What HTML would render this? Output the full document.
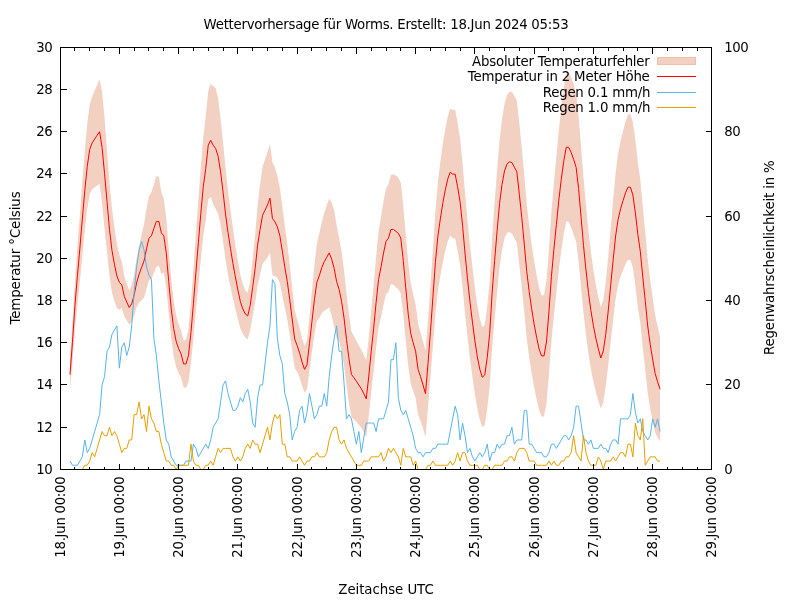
<!DOCTYPE html>
<html lang="de"><head><meta charset="utf-8"><title>Wettervorhersage für Worms</title>
<style>html,body{margin:0;padding:0;background:#fff}svg{display:block;will-change:transform}text{font-family:"DejaVu Sans","Liberation Sans",sans-serif;font-size:13.33px;fill:#000}</style></head><body>
<svg width="800" height="600" viewBox="0 0 800 600">
<rect width="800" height="600" fill="#fff"/>
<polygon points="69.98,360.76 72.44,323.19 74.91,281.25 77.38,247.21 79.85,215.11 82.32,182.06 84.79,150.66 87.26,123.64 89.73,104.68 92.20,96.36 94.67,90.80 97.13,85.10 99.60,79.29 102.07,91.73 104.54,117.95 107.01,150.75 109.48,182.65 111.95,208.52 114.42,227.35 116.89,243.89 119.35,255.00 121.82,261.56 124.29,276.16 126.76,283.98 129.23,290.23 131.70,285.51 134.17,274.16 136.64,258.57 139.11,245.67 141.57,234.62 144.04,224.02 146.51,208.69 148.98,196.06 151.45,192.23 153.92,183.74 156.39,176.10 158.86,176.69 161.33,192.01 163.80,198.81 166.26,218.35 168.73,249.48 171.20,278.72 173.67,300.85 176.14,315.34 178.61,324.22 181.08,330.39 183.55,340.70 186.02,339.76 188.48,328.81 190.95,302.46 193.42,269.22 195.89,233.33 198.36,199.64 200.83,166.80 203.30,137.33 205.77,116.53 208.24,90.88 210.71,83.73 213.17,86.27 215.64,88.04 218.11,98.85 220.58,119.04 223.05,142.54 225.52,168.10 227.99,190.24 230.46,209.81 232.93,228.32 235.39,244.96 237.86,260.88 240.33,274.79 242.80,284.20 245.27,290.31 247.74,292.77 250.21,280.65 252.68,258.61 255.15,234.42 257.62,205.39 260.08,184.53 262.55,166.71 265.02,159.42 267.49,152.32 269.96,143.70 272.43,161.89 274.90,167.50 277.37,176.07 279.84,188.00 282.30,206.37 284.77,225.51 287.24,243.37 289.71,264.69 292.18,287.33 294.65,310.00 297.12,318.91 299.59,328.02 302.06,338.33 304.52,346.19 306.99,340.78 309.46,316.57 311.93,291.16 314.40,265.30 316.87,243.62 319.34,233.43 321.81,221.90 324.28,212.80 326.75,205.25 329.21,198.38 331.68,202.70 334.15,210.58 336.62,225.21 339.09,237.64 341.56,251.63 344.03,270.18 346.50,293.62 348.97,314.58 351.43,331.67 353.90,336.12 356.37,340.76 358.84,345.45 361.31,349.82 363.78,354.99 366.25,360.34 368.72,337.89 371.19,311.02 373.66,285.32 376.12,257.06 378.59,231.36 381.06,216.67 383.53,201.34 386.00,188.63 388.47,184.31 390.94,174.87 393.41,174.18 395.88,175.47 398.34,177.55 400.81,182.72 403.28,206.04 405.75,234.74 408.22,262.47 410.69,283.28 413.16,294.31 415.63,304.44 418.10,324.02 420.57,332.46 423.03,341.43 425.50,350.41 427.97,319.73 430.44,285.88 432.91,248.92 435.38,211.42 437.85,182.21 440.32,161.96 442.79,144.29 445.25,129.16 447.72,116.80 450.19,108.86 452.66,110.04 455.13,109.70 457.60,122.72 460.07,138.53 462.54,163.22 465.01,192.73 467.48,220.01 469.94,245.01 472.41,267.11 474.88,287.65 477.35,305.35 479.82,318.76 482.29,327.32 484.76,324.93 487.23,306.54 489.70,280.35 492.16,236.73 494.63,202.31 497.10,169.98 499.57,140.01 502.04,118.99 504.51,103.75 506.98,95.34 509.45,91.74 511.92,91.76 514.38,95.88 516.85,100.47 519.32,123.36 521.79,147.63 524.26,175.20 526.73,203.96 529.20,225.59 531.67,244.39 534.14,261.12 536.61,275.30 539.07,287.79 541.54,295.24 544.01,295.20 546.48,280.45 548.95,249.04 551.42,212.04 553.89,183.17 556.36,156.66 558.83,130.39 561.29,107.96 563.76,88.41 566.23,73.20 568.70,72.56 571.17,77.40 573.64,84.34 576.11,93.14 578.58,115.98 581.05,146.76 583.52,177.98 585.98,205.47 588.45,230.77 590.92,252.06 593.39,269.85 595.86,284.75 598.33,297.19 600.80,307.21 603.27,300.24 605.74,282.35 608.20,257.06 610.67,228.64 613.14,200.32 615.61,173.26 618.08,154.08 620.55,141.37 623.02,131.19 625.49,121.48 627.96,114.53 630.42,114.35 632.89,122.16 635.36,140.16 637.83,161.92 640.30,179.82 642.77,206.65 645.24,232.13 647.71,259.28 650.18,279.87 652.65,297.52 655.11,314.70 657.58,326.23 660.05,337.32 660.05,441.21 657.58,437.18 655.11,432.16 652.65,420.91 650.18,408.57 647.71,392.63 645.24,369.45 642.77,347.21 640.30,322.86 637.83,306.64 635.36,285.74 632.89,267.85 630.42,260.04 627.96,259.85 625.49,264.31 623.02,270.22 620.55,276.51 618.08,284.92 615.61,298.68 613.14,319.76 610.67,342.12 608.20,365.21 605.74,386.37 603.27,401.91 600.80,408.81 598.33,400.68 595.86,391.68 593.39,381.42 590.92,369.13 588.45,353.84 585.98,334.71 583.52,313.18 581.05,287.38 578.58,261.15 576.11,241.60 573.64,234.52 571.17,227.59 568.70,222.01 566.23,221.37 563.76,234.03 561.29,250.38 558.83,269.75 556.36,292.90 553.89,315.80 551.42,340.98 548.95,374.61 546.48,403.38 544.01,416.61 541.54,416.57 539.07,410.08 536.61,399.34 534.14,387.48 531.67,373.45 529.20,357.56 526.73,338.83 524.26,312.78 521.79,287.53 519.32,265.00 516.85,243.08 514.38,238.47 511.92,233.42 509.45,231.97 506.98,233.02 504.51,238.12 502.04,249.90 499.57,266.89 497.10,291.82 494.63,318.61 492.16,347.54 489.70,386.26 487.23,408.65 484.76,424.88 482.29,427.14 479.82,419.78 477.35,408.54 474.88,393.77 472.41,376.67 469.94,358.29 467.48,337.08 465.01,313.41 462.54,287.11 460.07,264.99 457.60,250.89 455.13,238.50 452.66,238.16 450.19,235.55 447.72,241.38 445.25,250.75 442.79,262.54 440.32,275.98 437.85,290.74 435.38,313.90 432.91,345.48 430.44,377.36 427.97,407.65 425.50,436.98 423.03,428.54 420.57,421.06 418.10,414.87 415.63,398.07 413.16,391.09 410.69,383.34 408.22,365.78 405.75,341.04 403.28,314.88 400.81,293.44 398.34,289.32 395.88,287.17 393.41,284.67 390.94,283.98 388.47,291.85 386.00,294.29 383.53,304.80 381.06,316.92 378.59,327.14 376.12,347.74 373.66,370.92 371.19,392.19 368.72,415.93 366.25,437.19 363.78,432.11 361.31,427.73 358.84,424.63 356.37,421.66 353.90,419.18 351.43,417.29 348.97,403.13 346.50,385.45 344.03,365.61 341.56,350.94 339.09,341.10 336.62,337.94 334.15,326.39 331.68,315.69 329.21,307.34 326.75,309.34 324.28,310.66 321.81,312.96 319.34,317.89 316.87,320.94 314.40,334.38 311.93,351.95 309.46,370.11 306.99,389.18 304.52,392.64 302.06,385.61 299.59,377.62 297.12,372.10 294.65,367.84 292.18,350.65 289.71,334.11 287.24,319.28 284.77,308.08 282.30,295.55 279.84,283.51 277.37,277.42 274.90,276.14 272.43,275.07 269.96,252.65 267.49,257.54 265.02,261.00 262.55,263.84 260.08,274.32 257.62,284.79 255.15,302.34 252.68,315.91 250.21,330.14 247.74,339.22 245.27,337.60 242.80,333.85 240.33,328.13 237.86,319.03 235.39,308.83 232.93,298.60 230.46,286.99 227.99,274.62 225.52,259.74 223.05,241.32 220.58,224.62 218.11,213.67 215.64,208.81 213.17,204.31 210.71,196.91 208.24,199.55 205.77,220.27 203.30,235.79 200.83,259.71 198.36,285.81 195.89,311.24 193.42,338.28 190.95,363.02 188.48,382.15 186.02,388.09 183.55,387.15 181.08,377.50 178.61,373.15 176.14,367.09 173.67,356.20 171.20,338.28 168.73,313.67 166.26,287.37 163.80,272.71 161.33,273.59 158.86,266.11 156.39,266.70 153.92,273.00 151.45,279.28 148.98,280.52 146.51,289.01 144.04,297.75 141.57,300.24 139.11,302.60 136.64,307.12 134.17,315.60 131.70,321.99 129.23,324.86 126.76,320.14 124.29,316.55 121.82,308.35 119.35,309.85 116.89,307.91 114.42,301.14 111.95,292.14 109.48,275.63 107.01,252.10 104.54,228.92 102.07,203.26 99.60,184.03 97.13,185.40 94.67,187.30 92.20,189.35 89.73,194.04 87.26,208.87 84.79,230.90 82.32,256.09 79.85,281.74 77.38,305.38 74.91,330.05 72.44,361.84 69.98,388.63" fill="#f2d0c2" stroke="none"/>
<polyline points="69.98,374.69 72.44,342.51 74.91,305.65 77.38,276.30 79.85,248.43 82.32,219.08 84.79,190.78 87.26,166.26 89.73,149.36 92.20,142.85 94.67,139.05 97.13,135.25 99.60,131.66 102.07,147.50 104.54,173.44 107.01,201.43 109.48,229.14 111.95,250.33 114.42,264.24 116.89,275.90 119.35,282.42 121.82,284.95 124.29,296.36 126.76,302.06 129.23,307.55 131.70,303.75 134.17,294.88 136.64,282.84 139.11,274.13 141.57,267.43 144.04,260.88 146.51,248.85 148.98,238.29 151.45,235.76 153.92,228.37 156.39,221.40 158.86,221.40 161.33,232.80 163.80,235.76 166.26,252.86 168.73,281.58 171.20,308.50 173.67,328.52 176.14,341.21 178.61,348.69 181.08,353.94 183.55,363.93 186.02,363.93 188.48,355.48 190.95,332.74 193.42,303.75 195.89,272.29 198.36,242.72 200.83,213.25 203.30,186.56 205.77,168.40 208.24,145.22 210.71,140.32 213.17,145.29 215.64,148.43 218.11,156.26 220.58,171.83 223.05,191.93 225.52,213.92 227.99,232.43 230.46,248.40 232.93,263.46 235.39,276.89 237.86,289.95 240.33,301.46 242.80,309.03 245.27,313.95 247.74,315.99 250.21,305.39 252.68,287.26 255.15,268.38 257.62,245.09 260.08,229.42 262.55,215.28 265.02,210.21 267.49,204.93 269.96,198.17 272.43,218.48 274.90,221.82 277.37,226.75 279.84,235.76 282.30,250.96 284.77,266.80 287.24,281.32 289.71,299.40 292.18,318.99 294.65,338.92 297.12,345.50 299.59,352.82 302.06,361.97 304.52,369.41 306.99,364.98 309.46,343.34 311.93,321.55 314.40,299.84 316.87,282.28 319.34,275.66 321.81,267.43 324.28,261.73 326.75,257.29 329.21,252.86 331.68,259.19 334.15,268.49 336.62,281.58 339.09,289.37 341.56,301.28 344.03,317.89 346.50,339.54 348.97,358.86 351.43,374.48 353.90,377.65 356.37,381.21 358.84,385.04 361.31,388.78 363.78,393.55 366.25,398.76 368.72,376.91 371.19,351.61 373.66,328.12 376.12,302.40 378.59,279.25 381.06,266.80 383.53,253.07 386.00,241.46 388.47,238.08 390.94,229.42 393.41,229.42 395.88,231.32 398.34,233.43 400.81,238.08 403.28,260.46 405.75,287.89 408.22,314.12 410.69,333.31 413.16,342.70 415.63,351.26 418.10,369.45 420.57,376.76 423.03,384.98 425.50,393.70 427.97,363.69 430.44,331.62 432.91,297.20 435.38,262.66 437.85,236.47 440.32,218.97 442.79,203.42 445.25,189.95 447.72,179.09 450.19,172.20 452.66,174.10 455.13,174.10 457.60,186.81 460.07,201.76 462.54,225.16 465.01,253.07 467.48,278.55 469.94,301.65 472.41,321.89 474.88,340.71 477.35,356.94 479.82,369.27 482.29,377.23 484.76,374.90 487.23,357.59 489.70,333.31 492.16,292.13 494.63,260.46 497.10,230.90 499.57,203.45 502.04,184.45 504.51,170.93 506.98,164.18 509.45,161.85 511.92,162.59 514.38,167.17 516.85,171.78 519.32,194.18 521.79,217.58 524.26,243.99 526.73,271.39 529.20,291.57 531.67,308.92 534.14,324.30 536.61,337.32 539.07,348.93 541.54,355.90 544.01,355.90 546.48,341.91 548.95,311.82 551.42,276.51 553.89,249.48 556.36,224.78 558.83,200.07 561.29,179.17 563.76,161.22 566.23,147.29 568.70,147.29 571.17,152.49 573.64,159.43 576.11,167.37 578.58,188.56 581.05,217.07 583.52,245.58 585.98,270.09 588.45,292.30 590.92,310.59 593.39,325.64 595.86,338.21 598.33,348.93 600.80,358.01 603.27,351.08 605.74,334.36 608.20,311.14 610.67,285.38 613.14,260.04 615.61,235.97 618.08,219.50 620.55,208.94 623.02,200.71 625.49,192.89 627.96,187.19 630.42,187.19 632.89,195.00 635.36,212.95 637.83,234.28 640.30,251.34 642.77,276.93 645.24,300.79 647.71,325.95 650.18,344.22 652.65,359.21 655.11,373.43 657.58,381.71 660.05,389.26" fill="none" stroke="#ff0000" stroke-width="1" stroke-linejoin="miter" stroke-miterlimit="4"/>
<polyline points="69.98,461.05 72.44,465.28 74.91,465.28 77.38,465.28 79.85,461.05 82.32,456.83 84.79,439.94 87.26,452.61 89.73,448.38 92.20,439.94 94.67,431.49 97.13,423.05 99.60,414.60 102.07,385.04 104.54,376.59 107.01,351.26 109.48,347.03 111.95,334.36 114.42,330.14 116.89,325.92 119.35,368.15 121.82,347.03 124.29,342.81 126.76,355.48 129.23,347.03 131.70,325.92 134.17,292.13 136.64,266.80 139.11,249.90 141.57,241.46 144.04,249.90 146.51,266.80 148.98,275.24 151.45,279.47 153.92,338.59 156.39,355.48 158.86,380.82 161.33,401.93 163.80,423.05 166.26,439.94 168.73,444.16 171.20,456.83 173.67,461.05 176.14,465.28 178.61,465.28 181.08,465.28 183.55,465.28 186.02,461.05 188.48,461.05 190.95,461.05 193.42,444.16 195.89,448.38 198.36,456.83 200.83,452.61 203.30,448.38 205.77,444.16 208.24,448.38 210.71,439.94 213.17,427.27 215.64,423.05 218.11,418.82 220.58,401.93 223.05,385.04 225.52,380.82 227.99,393.49 230.46,401.93 232.93,410.38 235.39,410.38 237.86,406.16 240.33,397.71 242.80,401.93 245.27,393.49 247.74,389.26 250.21,401.93 252.68,423.05 255.15,427.27 257.62,397.71 260.08,385.04 262.55,385.04 265.02,363.93 267.49,342.81 269.96,325.92 272.43,279.47 274.90,283.69 277.37,338.59 279.84,355.48 282.30,363.93 284.77,393.49 287.24,401.93 289.71,414.60 292.18,439.94 294.65,431.49 297.12,427.27 299.59,410.38 302.06,406.16 304.52,423.05 306.99,412.49 309.46,393.49 311.93,406.16 314.40,418.82 316.87,414.60 319.34,406.16 321.81,406.16 324.28,393.49 326.75,406.16 329.21,376.59 331.68,355.48 334.15,338.59 336.62,325.92 339.09,351.26 341.56,351.26 344.03,382.93 346.50,418.82 348.97,414.60 351.43,418.82 353.90,431.49 356.37,444.16 358.84,431.49 361.31,452.61 363.78,437.83 366.25,423.05 368.72,423.05 371.19,423.05 373.66,423.05 376.12,431.49 378.59,418.82 381.06,418.82 383.53,418.82 386.00,410.38 388.47,401.93 390.94,359.70 393.41,359.70 395.88,342.81 398.34,397.71 400.81,410.38 403.28,414.60 405.75,410.38 408.22,418.82 410.69,427.27 413.16,435.72 415.63,448.38 418.10,452.61 420.57,452.61 423.03,456.83 425.50,452.61 427.97,452.61 430.44,452.61 432.91,448.38 435.38,448.38 437.85,444.16 440.32,444.16 442.79,444.16 445.25,444.16 447.72,444.16 450.19,431.49 452.66,418.82 455.13,406.16 457.60,414.60 460.07,439.94 462.54,423.05 465.01,435.72 467.48,452.61 469.94,448.38 472.41,456.83 474.88,461.05 477.35,456.83 479.82,452.61 482.29,456.83 484.76,452.61 487.23,444.16 489.70,461.05 492.16,452.61 494.63,452.61 497.10,444.16 499.57,448.38 502.04,444.16 504.51,444.16 506.98,435.72 509.45,435.72 511.92,427.27 514.38,444.16 516.85,439.94 519.32,439.94 521.79,439.94 524.26,410.38 526.73,410.38 529.20,444.16 531.67,444.16 534.14,448.38 536.61,452.61 539.07,452.61 541.54,452.61 544.01,456.83 546.48,456.83 548.95,452.61 551.42,444.16 553.89,444.16 556.36,448.38 558.83,444.16 561.29,439.94 563.76,435.72 566.23,435.72 568.70,439.94 571.17,435.72 573.64,427.27 576.11,406.16 578.58,406.16 581.05,423.05 583.52,439.94 585.98,439.94 588.45,444.16 590.92,439.94 593.39,448.38 595.86,448.38 598.33,448.38 600.80,444.16 603.27,448.38 605.74,448.38 608.20,452.61 610.67,444.16 613.14,439.94 615.61,439.94 618.08,444.16 620.55,418.82 623.02,418.82 625.49,418.82 627.96,418.82 630.42,414.60 632.89,393.49 635.36,412.49 637.83,423.05 640.30,418.82 642.77,431.49 645.24,435.72 647.71,439.94 650.18,435.72 652.65,418.82 655.11,427.27 657.58,418.82 660.05,431.49" fill="none" stroke="#56b4e9" stroke-width="1" stroke-linejoin="miter" stroke-miterlimit="4"/>
<polyline points="69.98,469.50 72.44,469.50 74.91,469.50 77.38,469.50 79.85,469.50 82.32,469.50 84.79,465.28 87.26,465.28 89.73,461.05 92.20,452.61 94.67,456.83 97.13,448.38 99.60,439.94 102.07,431.49 104.54,435.72 107.01,435.72 109.48,427.27 111.95,435.72 114.42,431.49 116.89,435.72 119.35,444.16 121.82,452.61 124.29,448.38 126.76,448.38 129.23,439.94 131.70,439.94 134.17,414.60 136.64,414.60 139.11,401.93 141.57,418.82 144.04,414.60 146.51,431.49 148.98,406.16 151.45,418.82 153.92,423.05 156.39,431.49 158.86,431.49 161.33,444.16 163.80,452.61 166.26,461.05 168.73,461.05 171.20,465.28 173.67,465.28 176.14,469.50 178.61,465.28 181.08,465.28 183.55,465.28 186.02,465.28 188.48,465.28 190.95,444.16 193.42,461.05 195.89,465.28 198.36,465.28 200.83,469.50 203.30,469.50 205.77,465.28 208.24,465.28 210.71,461.05 213.17,465.28 215.64,456.83 218.11,448.38 220.58,452.61 223.05,448.38 225.52,448.38 227.99,448.38 230.46,448.38 232.93,456.83 235.39,461.05 237.86,456.83 240.33,461.05 242.80,456.83 245.27,448.38 247.74,444.16 250.21,448.38 252.68,439.94 255.15,444.16 257.62,444.16 260.08,452.61 262.55,444.16 265.02,435.72 267.49,427.27 269.96,439.94 272.43,423.05 274.90,414.60 277.37,418.82 279.84,414.60 282.30,444.16 284.77,444.16 287.24,456.83 289.71,456.83 292.18,461.05 294.65,461.05 297.12,461.05 299.59,456.83 302.06,461.05 304.52,465.28 306.99,461.05 309.46,461.05 311.93,456.83 314.40,456.83 316.87,452.61 319.34,456.83 321.81,456.83 324.28,456.83 326.75,452.61 329.21,439.94 331.68,431.49 334.15,427.27 336.62,427.27 339.09,439.94 341.56,444.16 344.03,439.94 346.50,448.38 348.97,452.61 351.43,456.83 353.90,461.05 356.37,465.28 358.84,465.28 361.31,465.28 363.78,461.05 366.25,461.05 368.72,461.05 371.19,456.83 373.66,456.83 376.12,456.83 378.59,456.83 381.06,452.61 383.53,461.05 386.00,456.83 388.47,448.38 390.94,452.61 393.41,448.38 395.88,452.61 398.34,456.83 400.81,465.28 403.28,448.38 405.75,456.83 408.22,456.83 410.69,456.83 413.16,465.28 415.63,461.05 418.10,469.50 420.57,469.50 423.03,469.50 425.50,469.50 427.97,465.28 430.44,465.28 432.91,461.05 435.38,465.28 437.85,465.28 440.32,465.28 442.79,465.28 445.25,465.28 447.72,465.28 450.19,461.05 452.66,465.28 455.13,461.05 457.60,452.61 460.07,461.05 462.54,452.61 465.01,452.61 467.48,461.05 469.94,465.28 472.41,465.28 474.88,465.28 477.35,465.28 479.82,469.50 482.29,469.50 484.76,465.28 487.23,465.28 489.70,469.50 492.16,469.50 494.63,465.28 497.10,465.28 499.57,465.28 502.04,465.28 504.51,461.05 506.98,461.05 509.45,456.83 511.92,456.83 514.38,461.05 516.85,452.61 519.32,448.38 521.79,448.38 524.26,448.38 526.73,452.61 529.20,461.05 531.67,461.05 534.14,461.05 536.61,465.28 539.07,465.28 541.54,465.28 544.01,465.28 546.48,465.28 548.95,461.05 551.42,465.28 553.89,461.05 556.36,465.28 558.83,465.28 561.29,461.05 563.76,461.05 566.23,456.83 568.70,456.83 571.17,452.61 573.64,435.72 576.11,452.61 578.58,456.83 581.05,461.05 583.52,435.72 585.98,452.61 588.45,461.05 590.92,465.28 593.39,465.28 595.86,465.28 598.33,456.83 600.80,461.05 603.27,469.50 605.74,461.05 608.20,461.05 610.67,461.05 613.14,456.83 615.61,461.05 618.08,456.83 620.55,452.61 623.02,452.61 625.49,456.83 627.96,444.16 630.42,444.16 632.89,456.83 635.36,423.05 637.83,435.72 640.30,439.94 642.77,418.82 645.24,465.28 647.71,461.05 650.18,456.83 652.65,456.83 655.11,456.83 657.58,461.05 660.05,461.05" fill="none" stroke="#e69f00" stroke-width="1" stroke-linejoin="miter" stroke-miterlimit="4"/>

<path d="M60.5 469.5v-6M60.5 47.5v6M74.5 469.5v-3M74.5 47.5v3M89.5 469.5v-3M89.5 47.5v3M104.5 469.5v-3M104.5 47.5v3M119.5 469.5v-6M119.5 47.5v6M134.5 469.5v-3M134.5 47.5v3M148.5 469.5v-3M148.5 47.5v3M163.5 469.5v-3M163.5 47.5v3M178.5 469.5v-6M178.5 47.5v6M193.5 469.5v-3M193.5 47.5v3M208.5 469.5v-3M208.5 47.5v3M223.5 469.5v-3M223.5 47.5v3M237.5 469.5v-6M237.5 47.5v6M252.5 469.5v-3M252.5 47.5v3M267.5 469.5v-3M267.5 47.5v3M282.5 469.5v-3M282.5 47.5v3M297.5 469.5v-6M297.5 47.5v6M311.5 469.5v-3M311.5 47.5v3M326.5 469.5v-3M326.5 47.5v3M341.5 469.5v-3M341.5 47.5v3M356.5 469.5v-6M356.5 47.5v6M371.5 469.5v-3M371.5 47.5v3M386.5 469.5v-3M386.5 47.5v3M400.5 469.5v-3M400.5 47.5v3M415.5 469.5v-6M415.5 47.5v6M430.5 469.5v-3M430.5 47.5v3M445.5 469.5v-3M445.5 47.5v3M460.5 469.5v-3M460.5 47.5v3M474.5 469.5v-6M474.5 47.5v6M489.5 469.5v-3M489.5 47.5v3M504.5 469.5v-3M504.5 47.5v3M519.5 469.5v-3M519.5 47.5v3M534.5 469.5v-6M534.5 47.5v6M548.5 469.5v-3M548.5 47.5v3M563.5 469.5v-3M563.5 47.5v3M578.5 469.5v-3M578.5 47.5v3M593.5 469.5v-6M593.5 47.5v6M608.5 469.5v-3M608.5 47.5v3M623.5 469.5v-3M623.5 47.5v3M637.5 469.5v-3M637.5 47.5v3M652.5 469.5v-6M652.5 47.5v6M667.5 469.5v-3M667.5 47.5v3M682.5 469.5v-3M682.5 47.5v3M697.5 469.5v-3M697.5 47.5v3M711.5 469.5v-6M711.5 47.5v6M60.5 469.5h6M60.5 427.5h6M60.5 384.5h6M60.5 342.5h6M60.5 300.5h6M60.5 258.5h6M60.5 216.5h6M60.5 173.5h6M60.5 131.5h6M60.5 89.5h6M60.5 47.5h6M711.5 469.5h-6M711.5 384.5h-6M711.5 300.5h-6M711.5 216.5h-6M711.5 131.5h-6M711.5 47.5h-6" stroke="#000" stroke-width="1" fill="none" shape-rendering="crispEdges"/>
<rect x="60.5" y="47.5" width="651.0" height="422.0" fill="none" stroke="#000" stroke-width="1" shape-rendering="crispEdges"/>
<text x="52.2" y="474.1" text-anchor="end" style="letter-spacing:-0.45px">10</text>
<text x="52.2" y="432.1" text-anchor="end" style="letter-spacing:-0.45px">12</text>
<text x="52.2" y="389.1" text-anchor="end" style="letter-spacing:-0.45px">14</text>
<text x="52.2" y="347.1" text-anchor="end" style="letter-spacing:-0.45px">16</text>
<text x="52.2" y="305.1" text-anchor="end" style="letter-spacing:-0.45px">18</text>
<text x="52.2" y="263.1" text-anchor="end" style="letter-spacing:-0.45px">20</text>
<text x="52.2" y="221.1" text-anchor="end" style="letter-spacing:-0.45px">22</text>
<text x="52.2" y="178.1" text-anchor="end" style="letter-spacing:-0.45px">24</text>
<text x="52.2" y="136.1" text-anchor="end" style="letter-spacing:-0.45px">26</text>
<text x="52.2" y="94.1" text-anchor="end" style="letter-spacing:-0.45px">28</text>
<text x="52.2" y="52.1" text-anchor="end" style="letter-spacing:-0.45px">30</text>
<text x="724.3" y="474.1" text-anchor="start" style="letter-spacing:-0.45px">0</text>
<text x="724.3" y="389.1" text-anchor="start" style="letter-spacing:-0.45px">20</text>
<text x="724.3" y="305.1" text-anchor="start" style="letter-spacing:-0.45px">40</text>
<text x="724.3" y="221.1" text-anchor="start" style="letter-spacing:-0.45px">60</text>
<text x="724.3" y="136.1" text-anchor="start" style="letter-spacing:-0.45px">80</text>
<text x="724.3" y="52.1" text-anchor="start" style="letter-spacing:-0.45px">100</text>
<text transform="translate(64.9,476.6) rotate(-90)" text-anchor="end" style="letter-spacing:-0.3px">18.Jun 00:00</text>
<text transform="translate(123.9,476.6) rotate(-90)" text-anchor="end" style="letter-spacing:-0.3px">19.Jun 00:00</text>
<text transform="translate(182.9,476.6) rotate(-90)" text-anchor="end" style="letter-spacing:-0.3px">20.Jun 00:00</text>
<text transform="translate(241.9,476.6) rotate(-90)" text-anchor="end" style="letter-spacing:-0.3px">21.Jun 00:00</text>
<text transform="translate(301.9,476.6) rotate(-90)" text-anchor="end" style="letter-spacing:-0.3px">22.Jun 00:00</text>
<text transform="translate(360.9,476.6) rotate(-90)" text-anchor="end" style="letter-spacing:-0.3px">23.Jun 00:00</text>
<text transform="translate(419.9,476.6) rotate(-90)" text-anchor="end" style="letter-spacing:-0.3px">24.Jun 00:00</text>
<text transform="translate(478.9,476.6) rotate(-90)" text-anchor="end" style="letter-spacing:-0.3px">25.Jun 00:00</text>
<text transform="translate(538.9,476.6) rotate(-90)" text-anchor="end" style="letter-spacing:-0.3px">26.Jun 00:00</text>
<text transform="translate(597.9,476.6) rotate(-90)" text-anchor="end" style="letter-spacing:-0.3px">27.Jun 00:00</text>
<text transform="translate(656.9,476.6) rotate(-90)" text-anchor="end" style="letter-spacing:-0.3px">28.Jun 00:00</text>
<text transform="translate(715.9,476.6) rotate(-90)" text-anchor="end" style="letter-spacing:-0.3px">29.Jun 00:00</text>
<text x="386" y="28.6" text-anchor="middle" style="letter-spacing:-0.27px">Wettervorhersage für Worms. Erstellt: 18.Jun 2024 05:53</text>
<text x="386" y="594" text-anchor="middle" style="letter-spacing:-0.05px">Zeitachse UTC</text>
<text transform="translate(19.5,258) rotate(-90)" text-anchor="middle" style="letter-spacing:-0.08px">Temperatur °Celsius</text>
<text transform="translate(773.6,257.7) rotate(-90)" text-anchor="middle" style="letter-spacing:-0.15px">Regenwahrscheinlichkeit in %</text>
<text x="649.6" y="65.5" text-anchor="end" style="letter-spacing:-0.22px">Absoluter Temperaturfehler</text>
<text x="649.6" y="81.1" text-anchor="end" style="letter-spacing:-0.22px">Temperatur in 2 Meter Höhe</text>
<text x="650.2" y="96.7" text-anchor="end" style="letter-spacing:-0.22px">Regen 0.1 mm/h</text>
<text x="650.2" y="112.3" text-anchor="end" style="letter-spacing:-0.22px">Regen 1.0 mm/h</text>
<rect x="657.5" y="57.5" width="38" height="7" fill="#f2d0c2" stroke="#eebfab" stroke-width="1"/>
<path d="M657 76.5h39" stroke="#ff0000" stroke-width="1" fill="none"/>
<path d="M657 92.5h39" stroke="#56b4e9" stroke-width="1" fill="none"/>
<path d="M657 107.5h39" stroke="#e69f00" stroke-width="1" fill="none"/>
</svg></body></html>
